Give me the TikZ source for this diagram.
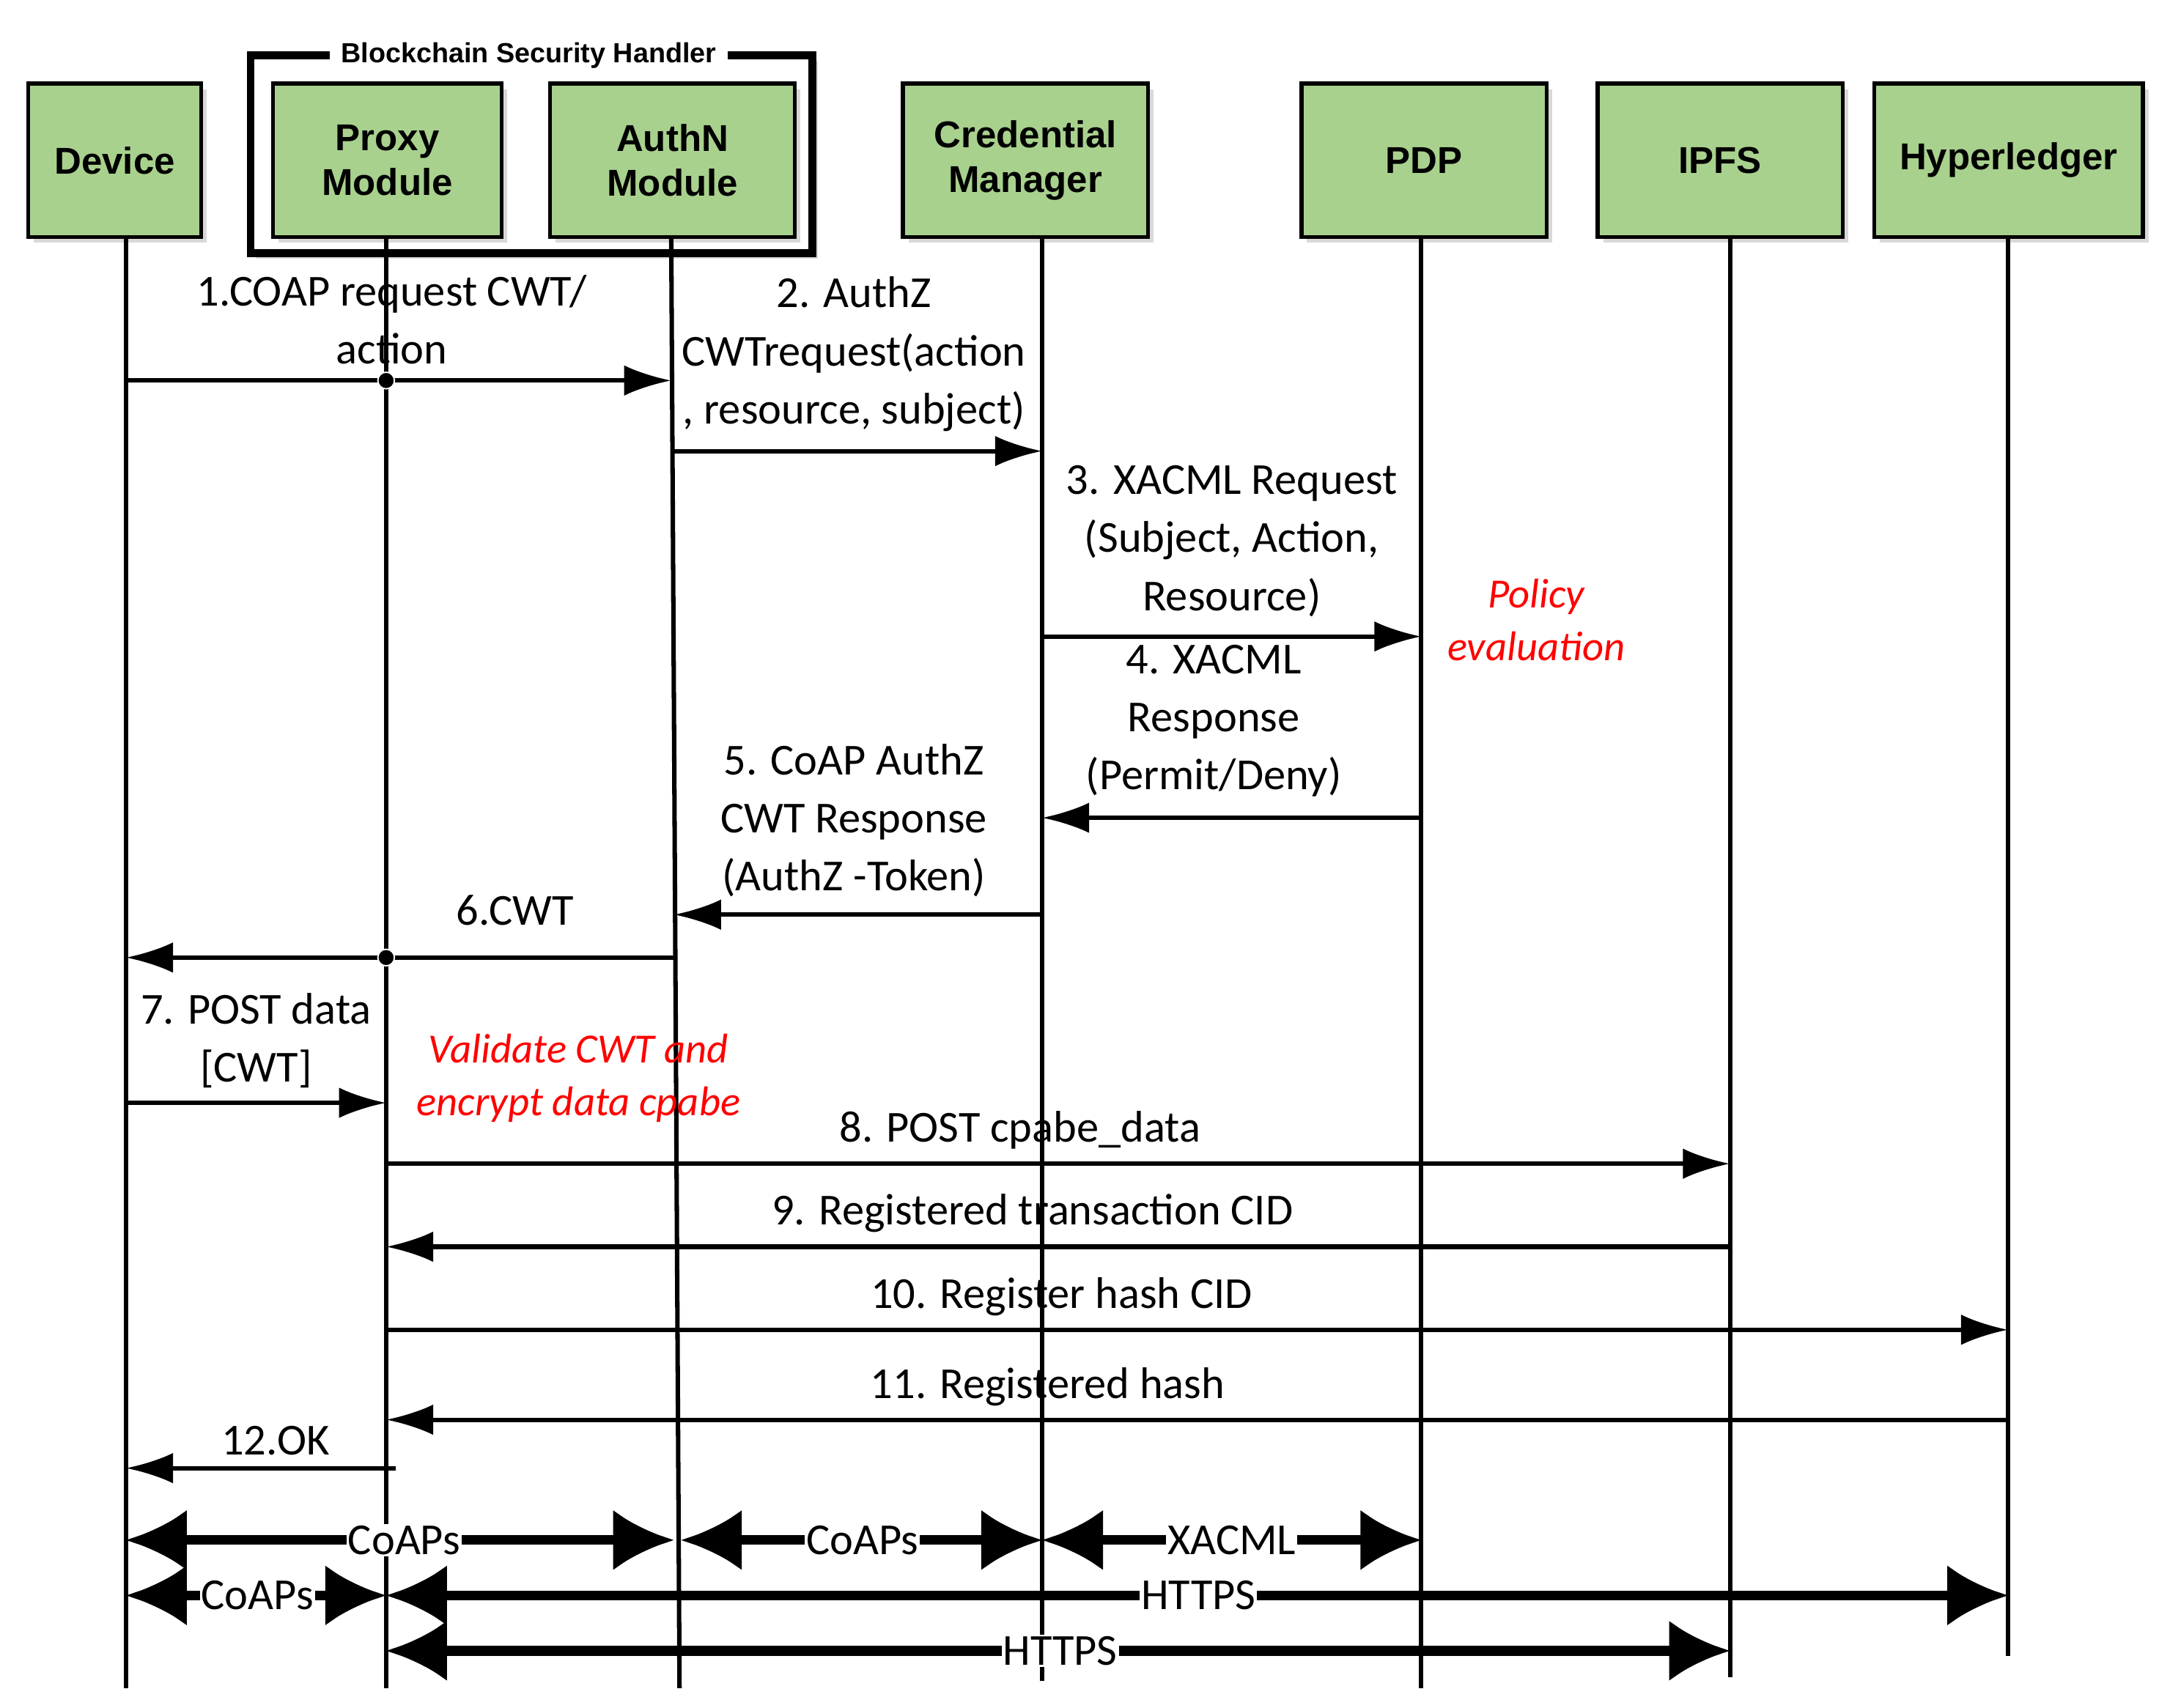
\documentclass[tikz,border=0pt]{standalone}
\usepackage{fontspec}
\setmainfont{Carlito}
\newfontfamily\boxfont{Liberation Sans}
\usetikzlibrary{arrows.meta,shadows}
\definecolor{boxgreen}{HTML}{A9D18E}
\begin{document}
\begin{tikzpicture}[x=0.5pt,y=-0.5pt,
  actor/.style={draw=black,line width=1.4pt,fill=boxgreen,font=\boxfont\bfseries\fontsize{13.5}{16}\selectfont,align=center,inner sep=0pt,anchor=north west,drop shadow={shadow xshift=2pt,shadow yshift=-2pt,opacity=0.3}},
  life/.style={line width=1.6pt},
  msg/.style={line width=1.6pt,-{Latex[length=17pt,width=11pt]}},
  lbl/.style={font=\fontsize{16}{21}\selectfont,align=center},
  red/.style={font=\itshape\fontsize{15}{19}\selectfont,text=red,align=center},
  bi/.style={line width=3.5pt,{Latex[length=22pt,width=22pt]}-{Latex[length=22pt,width=22pt]}},
  blbl/.style={font=\fontsize{16}{18}\selectfont,fill=white,inner sep=0.5pt},
  dot/.style={circle,fill=black,draw=white,line width=0.5pt,inner sep=0pt,minimum size=6pt}]
\useasboundingbox (0,0) rectangle (1560,1234);
% frame
\draw[line width=2.8pt,drop shadow={shadow xshift=2pt,shadow yshift=-2pt,opacity=0.3},fill=white] (181,40) rectangle (587,183);
\node[fill=white,font=\boxfont\bfseries\fontsize{10}{12}\selectfont,inner xsep=4pt,inner ysep=1pt] (bsh) at (382,40) {Blockchain Security Handler};
% actors
\node[actor,minimum width=62.5pt,minimum height=55.5pt] (dev) at (19,59) {Device};
\node[actor,minimum width=82.5pt,minimum height=55.5pt] (prx) at (196,59) {Proxy\\Module};
\node[actor,minimum width=88.5pt,minimum height=55.5pt] (aut) at (396,59) {AuthN\\Module};
\node[actor,minimum width=88.5pt,minimum height=55.5pt] (crm) at (651,59) {Credential\\Manager};
\node[actor,minimum width=88.5pt,minimum height=55.5pt] (pdp) at (939,59) {PDP};
\node[actor,minimum width=88.5pt,minimum height=55.5pt] (ipf) at (1153,59) {IPFS};
\node[actor,minimum width=97pt,minimum height=55.5pt] (hyp) at (1353,59) {Hyperledger};
% lifeline ends
\coordinate (dB) at (91,1220);
\coordinate (pB) at (279,1220);
\coordinate (aB) at (491,1220);
\coordinate (cB) at (753,1215);
\coordinate (qB) at (1027,1220);
\coordinate (iB) at (1250,1212);
\coordinate (hB) at (1451,1197);
\coordinate (dT) at (91,170);
\coordinate (pT) at (279,170);
\coordinate (aT) at (485,170);
\coordinate (cT) at (753,170);
\coordinate (qT) at (1027,170);
\coordinate (iT) at (1250,170);
\coordinate (hT) at (1451,170);
\foreach \a in {d,p,a,c,q,i,h} \draw[life] (\a T) -- (\a B);
% messages
\coordinate (m1) at (0,275);\coordinate (m2) at (0,326);\coordinate (m3) at (0,460);
\coordinate (m4) at (0,591);\coordinate (m5) at (0,661);\coordinate (m6) at (0,692);
\coordinate (m7) at (0,797);\coordinate (m8) at (0,841);\coordinate (m9) at (0,901);
\coordinate (m10) at (0,961);\coordinate (m11) at (0,1026);\coordinate (m12) at (0,1061);
\draw[msg] (dT |- m1) -- (aT |- m1);
\node[dot] (d1) at (pT |- m1) {};
\node[lbl] (l1) at (283,231) {1.COAP request CWT/\\action};
\draw[msg] (487,326) coordinate (s2) -- (cT |- m2);
\node[lbl] (l2) at (617,256) {2. AuthZ\\CWTrequest(action\\, resource, subject)};
\draw[msg] (cT |- m3) -- (qT |- m3);
\node[lbl] (l3) at (890,391) {3. XACML Request\\(Subject, Action,\\Resource)};
\node[red] (r1) at (1110,448) {Policy\\evaluation};
\draw[msg] (qT |- m4) -- (cT |- m4);
\node[lbl] (l4) at (877,521) {4. XACML\\Response\\(Permit/Deny)};
\draw[msg] (cT |- m5) -- (487,661) coordinate (e5);
\node[lbl] (l5) at (617,593) {5. CoAP AuthZ\\CWT Response\\(AuthZ -Token)};
\draw[msg] (487,692) coordinate (s6) -- (dT |- m6);
\node[dot] (d6) at (pT |- m6) {};
\node[lbl] (l6) at (372,658) {6.CWT};
\draw[msg] (dT |- m7) -- (pT |- m7);
\node[lbl] (l7) at (185,752) {7. POST data\\{}[CWT]};
\node[red] (r2) at (418,779) {Validate CWT and\\encrypt data cpabe};
\draw[msg] (pT |- m8) -- (iT |- m8);
\node[lbl] (l8) at (737,817) {8. POST cpabe\_data};
\draw[msg] (iT |- m9) -- (pT |- m9);
\node[lbl] (l9) at (746,877) {9. Registered transaction CID};
\draw[msg] (pT |- m10) -- (hT |- m10);
\node[lbl] (l10) at (767,937) {10. Register hash CID};
\draw[msg] (hT |- m11) -- (pT |- m11);
\node[lbl] (l11) at (757,1002) {11. Registered hash};
\draw[msg] (286,1061) coordinate (s12) -- (dT |- m12);
\node[lbl] (l12) at (199,1041) {12.OK};
% protocol arrows
\coordinate (b1) at (0,1113);\coordinate (b2) at (0,1153);\coordinate (b3) at (0,1193);
\draw[bi] (dT |- b1) -- (487,1113) coordinate (e1);
\node[blbl] (c1) at (292,1113) {CoAPs};
\draw[bi] (492,1113) coordinate (s2b) -- (cT |- b1);
\node[blbl] (c2) at (623,1113) {CoAPs};
\draw[bi] (cT |- b1) -- (qT |- b1);
\node[blbl] (c3) at (890,1113) {XACML};
\draw[bi] (dT |- b2) -- (pT |- b2);
\node[blbl] (c4) at (186,1153) {CoAPs};
\draw[bi] (pT |- b2) -- (hT |- b2);
\node[blbl] (c5) at (866,1153) {HTTPS};
\draw[bi] (pT |- b3) -- (iT |- b3);
\node[blbl] (c6) at (766,1193) {HTTPS};
\end{tikzpicture}
\end{document}
